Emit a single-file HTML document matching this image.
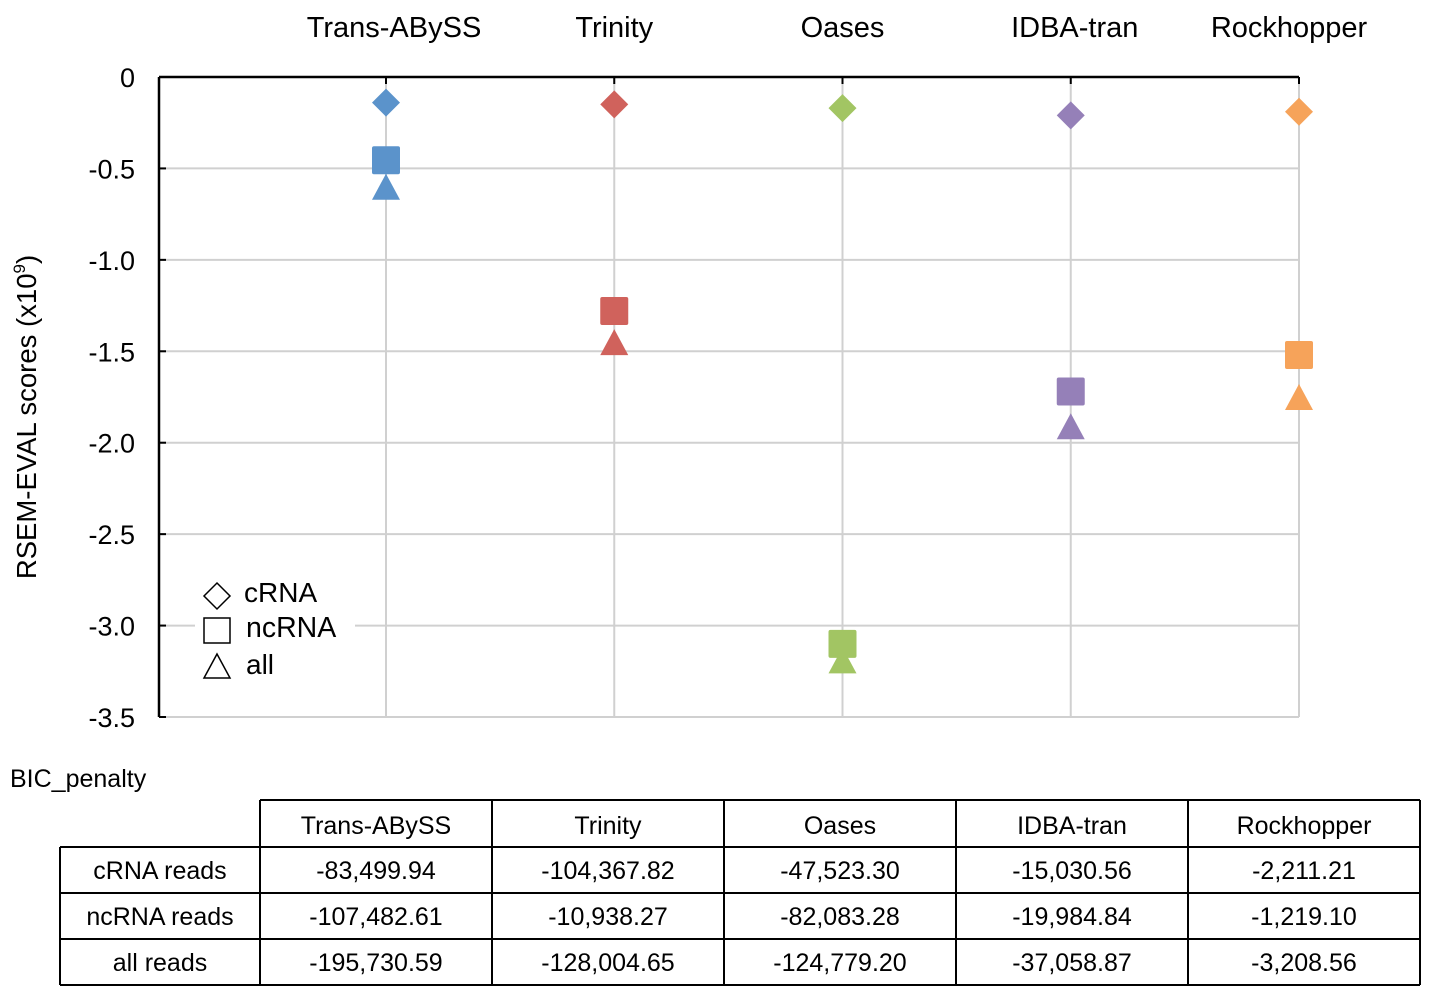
<!DOCTYPE html>
<html><head><meta charset="utf-8"><style>
body{margin:0;background:#fff;width:1429px;height:993px;overflow:hidden;font-family:"Liberation Sans",sans-serif;}
svg{position:absolute;left:0;top:0}
</style></head><body>
<svg width="1429" height="993">
<g id="grid"></g><g id="marks"></g><g id="labels"></g>
<g id="legend">
<rect x="195" y="578" width="160" height="105" fill="#fff"/>
<path d="M217,583 L230,596 L217,609 L204,596 Z" fill="none" stroke="#000" stroke-width="1.5"/>
<text x="244" y="602" font-size="28">cRNA</text>
<rect x="204" y="618" width="26" height="25" fill="none" stroke="#000" stroke-width="1.5"/>
<text x="246" y="637" font-size="28.5">ncRNA</text>
<path d="M217,654 L230,678 L204,678 Z" fill="none" stroke="#000" stroke-width="1.5"/>
<text x="246" y="674" font-size="28">all</text>
</g>
<text x="36" y="417" font-size="27.5" text-anchor="middle" transform="rotate(-90 36 417)">RSEM-EVAL scores (x10<tspan dy="-11" font-size="17">9</tspan><tspan dy="11">)</tspan></text>
<text x="10" y="787" font-size="25">BIC_penalty</text>
<g id="table"></g>
</svg>
<script>
const categories=["Trans-ABySS","Trinity","Oases","IDBA-tran","Rockhopper"];
const colors=["#5b93cb","#d0625c","#a2c563","#9580b8","#f6a35a"];
const cRNA=[-0.14,-0.15,-0.17,-0.21,-0.19];
const ncRNA=[-0.455,-1.28,-3.1,-1.72,-1.52];
const allReads=[-0.6,-1.45,-3.19,-1.91,-1.75];
const yTicks=[0,-0.5,-1.0,-1.5,-2.0,-2.5,-3.0,-3.5];
const yTickLabels=["0","-0.5","-1.0","-1.5","-2.0","-2.5","-3.0","-3.5"];
const rowLabels=["cRNA reads","ncRNA reads","all reads"];
const tableValues=[
["-83,499.94","-104,367.82","-47,523.30","-15,030.56","-2,211.21"],
["-107,482.61","-10,938.27","-82,083.28","-19,984.84","-1,219.10"],
["-195,730.59","-128,004.65","-124,779.20","-37,058.87","-3,208.56"]];
const labelShift=[8,0,0,4,-10];
const NS="http://www.w3.org/2000/svg";
const X0=159,Xr=1299,Y0=77,Y1=717;
const xS=i=>386+i*228.25;
const yS=v=>Y0+(v/-3.5)*(Y1-Y0);
function mk(t,a,p){const e=document.createElementNS(NS,t);for(const k in a)e.setAttribute(k,a[k]);p.appendChild(e);return e;}
const g=document.getElementById('grid'),m=document.getElementById('marks'),L=document.getElementById('labels');
yTicks.forEach((v,i)=>{const y=yS(v);
 if(i>0){const l=mk('line',{x1:X0,x2:Xr,y1:y,y2:y,stroke:'#d0d0d0','stroke-width':2},g);
 
 }
 mk('line',{x1:X0,x2:X0+7,y1:y,y2:y,stroke:'#000','stroke-width':2},g);
 const t=mk('text',{x:135,y:y+10,'font-size':27,'text-anchor':'end'},L);t.textContent=yTickLabels[i];
 
 });
categories.forEach((c,i)=>{const x=xS(i);
 const l=mk('line',{x1:x,x2:x,y1:Y0,y2:Y1,stroke:'#d0d0d0','stroke-width':2},g);
 
 
 mk('line',{x1:x,x2:x,y1:Y0,y2:Y0+7,stroke:'#000','stroke-width':2},g);
 const t=mk('text',{x:x+labelShift[i],y:37,'font-size':29,'text-anchor':'middle'},L);t.textContent=c;
 
 });
mk('line',{x1:X0,x2:Xr,y1:Y0,y2:Y0,stroke:'#000','stroke-width':2.5},g);
mk('line',{x1:X0,x2:X0,y1:Y0,y2:Y1,stroke:'#000','stroke-width':2.5},g);
categories.forEach((c,i)=>{const x=xS(i),col=colors[i];
 let y=yS(cRNA[i]);
 const d=mk('path',{d:`M${x},${y-14}L${x+14},${y}L${x},${y+14}L${x-14},${y}Z`,fill:col},m);
 
 
 y=yS(allReads[i]);
 const tr=mk('path',{d:`M${x},${y-13}L${x+14},${y+13}L${x-14},${y+13}Z`,fill:col},m);
 
 
 y=yS(ncRNA[i]);
 const s=mk('rect',{x:x-14,y:y-14,width:28,height:28,rx:2,fill:col},m);
 
 });
const T=document.getElementById('table');
const colX=[60,260,492,724,956,1188,1420],rowY=[800,847,893,939,985];
const ln=(a,b,c,d)=>mk('line',{x1:a,y1:b,x2:c,y2:d,stroke:'#000','stroke-width':2},T);
ln(260,800,1420,800);
for(let r=1;r<5;r++)ln(60,rowY[r],1420,rowY[r]);
ln(60,847,60,985);
for(let c=1;c<7;c++)ln(colX[c],800,colX[c],985);
const tx=(s,x,y,n)=>{const t=mk('text',{x:x,y:y,'font-size':25,'text-anchor':'middle'},T);t.textContent=s;
 
 };
categories.forEach((c,i)=>tx(c,(colX[i+1]+colX[i+2])/2,834,'table-header'));
rowLabels.forEach((r,j)=>{const y=(rowY[j+1]+rowY[j+2])/2+9;tx(r,160,y,'table-row-label');
 tableValues[j].forEach((v,i)=>tx(v,(colX[i+1]+colX[i+2])/2,y,'table-cell'));});
</script>
</body></html>
